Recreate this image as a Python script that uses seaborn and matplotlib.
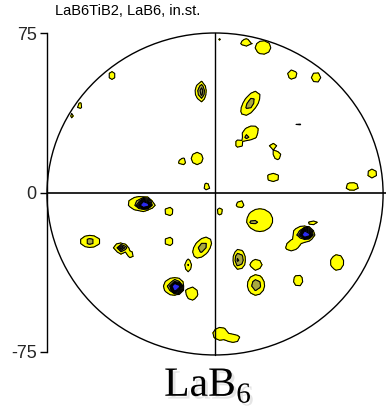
import numpy as np
import matplotlib
matplotlib.use("Agg")
import matplotlib.pyplot as plt
import matplotlib.patheffects as pe
from matplotlib.patches import Ellipse
import seaborn as sns

# ---------------- data ----------------
title = "LaB6TiB2, LaB6, in.st."
phase_label = r"$\mathrm{LaB}_\mathrm{6}$"
ytick_values = [75, 0, -75]
ytick_labels = ["75", "0", "-75"]

# pole-figure intensity peaks: centre (x, y), height, widths, rotation (deg)
peak_x = [-46.0, -60.7, -63.4, -69.2, -6.25, 2.2, 13.8, 21.4, 34.4, 45.1,
          15.8, 15.6, 17.0, 13.8, 10.7, 25.9, 27.7, 37.1, 62.5, 70.1,
          61.2, 25.9, -3.6, -17.4, -14.7, -8.0, -32.1, -33.5, -31.5, -20.5,
          2.2, 11.2, 20.0, 17.0, 22.3, -55.8, -42.4, -41.5, -37.5, -20.5,
          -5.8, -12.0, -18.5, -17.5, -10.3, 10.7, 18.3, 18.3, 5.8, 2.5,
          8.0, 39.5, 40.5, 35.0, 43.75, 54.5, 37.1, 42.9]
peak_y = [55.0, 40.9, 36.2, 17.4, 47.5, 71.9, 70.5, 68.2, 55.5, 54.1,
          41.9, 27.7, 30.1, 26.3, 23.0, 21.6, 17.4, 32.0, 17.4, 8.9,
          2.8, 7.1, 2.8, 17.4, 14.6, 16.0, 17.4, -5.2, -5.5, -8.9,
          -8.9, -5.6, -13.0, -14.1, -22.6, -23.0, -25.9, -26.5, -29.1, -23.0,
          -25.9, -34.3, -44.2, -44.5, -47.5, -31.5, -33.9, -43.5, -29.1, -66.5,
          -68.5, -19.3, -19.5, -24.5, -14.6, -32.9, -41.4, -57.4]
peak_h = [1.6, 1.7, 1.5, 1.2, 3.8, 1.2, 1.6, 1.6, 1.6, 1.6,
          2.5, 1.8, 2.8, 2.8, 1.6, 1.5, 1.6, 1.3, 1.25, 1.6,
          1.6, 1.6, 1.5, 1.3, 1.6, 1.6, 1.2, 2.0, 14.0, 1.6,
          1.5, 1.6, 1.7, 2.9, 1.2, 2.5, 2.0, 6.0, 1.7, 1.6,
          2.5, 2.1, 2.0, 14.0, 1.6, 3.5, 1.6, 2.7, 1.2, 1.8,
          1.5, 2.0, 14.0, 1.7, 1.6, 1.6, 1.6, 1.2]
peak_su = [1.8, 1.4, 1.0, 1.0, 1.4, 1.0, 2.5, 3.6, 2.2, 2.2,
           4.8, 3.2, 1.1, 1.1, 1.8, 2.0, 1.9, 1.5, 1.0, 2.2,
           3.1, 2.8, 1.8, 1.1, 1.7, 2.7, 1.0, 4.5, 1.8, 2.0,
           1.8, 1.8, 5.6, 1.5, 1.0, 3.3, 2.5, 1.3, 1.5, 2.0,
           4.1, 1.3, 3.8, 1.5, 2.7, 1.7, 2.8, 2.7, 1.0, 3.2,
           3.5, 4.0, 1.6, 3.8, 2.5, 3.1, 2.2, 1.0]
peak_sv = [1.9, 1.4, 2.0, 1.0, 2.9, 1.0, 1.8, 3.3, 2.3, 2.4,
           2.2, 2.7, 1.1, 1.1, 1.9, 1.8, 2.0, 0.9, 1.0, 2.2,
           1.9, 2.0, 1.8, 1.1, 1.8, 3.0, 1.0, 2.8, 1.2, 2.1,
           1.8, 1.9, 5.2, 1.5, 1.0, 2.1, 1.8, 1.0, 1.5, 2.1,
           2.4, 2.4, 3.5, 1.5, 3.2, 3.0, 2.5, 3.4, 1.0, 2.8,
           2.2, 3.0, 1.3, 2.4, 1.1, 3.8, 2.8, 0.7]
peak_rot = [0, 0, 0, 0, 0, 0, 0, 0, 0, 0,
            58, 0, 0, 0, 0, 0, 0, 0, 0, 0,
            0, 0, 0, 0, 0, 0, 0, 0, 0, 0,
            0, 0, 0, 0, 0, 0, 0, 0, 0, 0,
            54, 0, 0, 0, 0, 0, 0, 0, 0, 0,
            0, 0, 0, 35, 0, 0, 0, 0]

contour_levels = [1, 2, 3, 4, 5, 6, 7, 100]
level_colors = ["#FFFF00", "#A8A840", "#8C8C5C", "#767676", "#666666",
                "#56566E", "#2A2AF0"]

# ---------------- figure ----------------
sns.set_style("white")
plt.rcParams["font.family"] = ["Liberation Sans", "DejaVu Sans"]
plt.rcParams["mathtext.fontset"] = "custom"
plt.rcParams["mathtext.rm"] = "Liberation Serif"

W, H = 386, 409
fig = plt.figure(figsize=(W / 100, H / 100), dpi=100)
fig.patch.set_facecolor("white")
ax = fig.add_axes([47 / W, (H - 352) / H, (W - 47) / W, 319 / H])
ax.set_facecolor("white")

# intensity field on a coarse grid (each peak keeps its own outline)
gx = np.arange(-80, 80.01, 2.0)
gy = np.arange(-80, 80.01, 2.0)
X, Y = np.meshgrid(gx, gy)
Z = np.zeros_like(X)
for px_, py_, h, su, sv, rot in zip(peak_x, peak_y, peak_h, peak_su, peak_sv, peak_rot):
    t = np.deg2rad(rot)
    dx, dy = X - px_, Y - py_
    u = dx * np.cos(t) + dy * np.sin(t)
    v = -dx * np.sin(t) + dy * np.cos(t)
    Z = np.maximum(Z, h * np.exp(-0.5 * ((u / su) ** 2 + (v / sv) ** 2)))

ax.contourf(X, Y, Z, levels=contour_levels, colors=level_colors)
ax.contour(X, Y, Z, levels=contour_levels[:-1], colors="black", linewidths=0.8)

# pole-figure frame
circle = Ellipse((0, -0.7), width=150, height=151.4, fill=False,
                 edgecolor="black", linewidth=1.0, clip_on=False)
ax.add_patch(circle)
ax.plot([0, 0], [75, -76.4], color="black", linewidth=1.0, clip_on=False)
ax.axhline(0, color="black", linewidth=1.2)

ax.set_xlim(-75, 76.3)
ax.set_ylim(-75, 75)
for side in ["top", "right", "bottom"]:
    ax.spines[side].set_visible(False)
ax.spines["left"].set_color("black")
ax.spines["left"].set_linewidth(1.0)
ax.set_xticks([])
ax.set_yticks(ytick_values)
ax.set_yticklabels(ytick_labels)
ax.tick_params(axis="y", direction="out", length=5, width=1.0, color="black",
               labelsize=13, pad=2.5, left=True)
ax.grid(False)

fig.text(55 / W, 1 - 11 / H, title, fontsize=10.5, va="center", ha="left",
         color="black")

fig.text(208 / W, 1 - 396 / H, phase_label, fontsize=30, ha="center",
         va="baseline", color="black",
         path_effects=[pe.withSimplePatchShadow(offset=(2, -2),
                                                shadow_rgbFace="#999999",
                                                alpha=0.25)])

fig.savefig("out.png", dpi=100, facecolor="white")
